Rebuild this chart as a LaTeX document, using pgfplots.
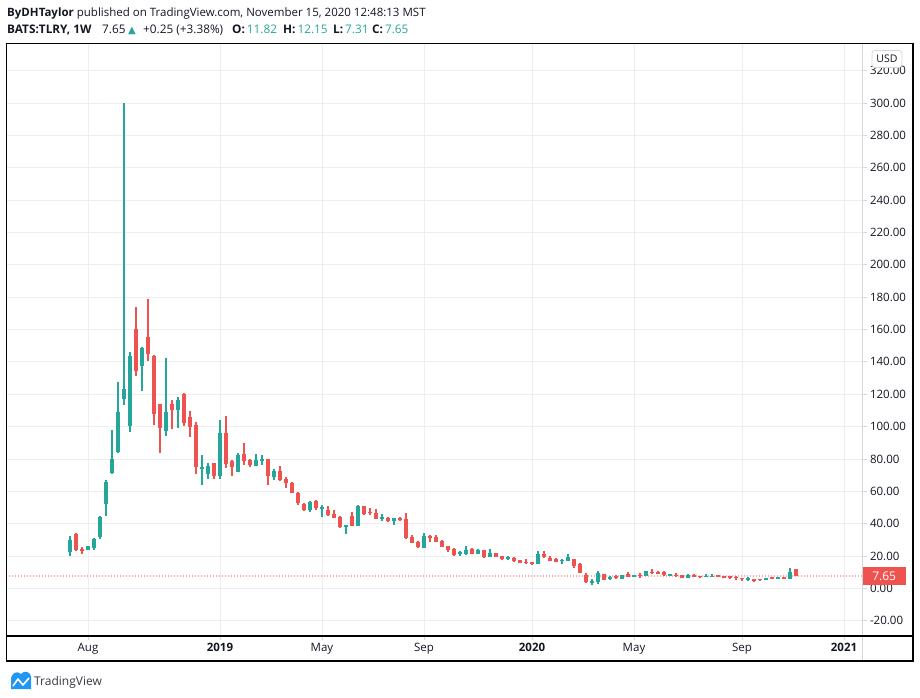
\documentclass[border=0pt]{standalone}
\usepackage{pgfplots}
\usepackage{pgfplotstable}
\pgfplotsset{compat=1.18}
\usepackage{fontspec}
\setmainfont{Open Sans}
\newfontfamily\symfont{DejaVu Sans}

\definecolor{tvgreen}{HTML}{26A69A}
\definecolor{tvred}{HTML}{EF5350}
\definecolor{tvtext}{HTML}{131722}
\definecolor{tvgrid}{HTML}{EDEEF1}
\definecolor{tvsep}{HTML}{D4D6DB}
\definecolor{tvblue}{HTML}{2196F3}

% weekly candles, x = week index (0 = week of 16 Jul 2018)
\pgfplotstableread{
x o h l c
0 22.6 32.3 20.0 29.9
3 23.6 26.3 23.4 26.1
4 25.1 31.2 23.6 30.4
5 31.6 44.7 30.4 44.1
6 52.3 67.0 44.4 65.9
7 71.2 97.9 70.6 79.8
8 84.1 127.6 83.7 109.0
9 117.2 300.0 113.3 123.2
10 100.6 145.9 96.9 143.7
12 137.7 149.0 122.2 148.6
16 97.5 142.3 94.4 109.0
18 110.5 118.5 99.3 116.5
22 73.8 82.4 64.1 75.0
23 70.7 77.3 67.8 75.6
25 69.6 104.1 67.8 96.0
28 72.1 83.7 72.1 82.4
31 75.8 83.1 75.8 79.3
32 78.9 82.4 76.4 80.0
34 69.0 73.8 67.2 72.5
40 48.6 54.0 47.4 53.4
42 49.2 51.5 44.3 50.5
46 37.9 39.1 33.6 39.1
48 38.5 51.5 38.5 50.9
52 42.9 46.0 41.8 44.1
54 41.8 43.5 39.3 43.5
59 24.9 34.2 24.9 32.3
65 21.2 23.1 20.0 22.4
66 21.2 26.2 20.6 23.7
68 21.2 24.3 21.2 23.7
70 19.4 24.3 19.4 21.8
73 18.3 20.0 17.5 19.2
78 15.2 23.1 15.2 21.2
82 17.1 18.1 15.0 17.7
83 16.9 21.2 16.9 19.4
87 3.7 5.8 2.0 4.1
88 3.9 10.7 2.8 9.5
90 5.8 7.6 5.3 7.0
92 5.9 8.2 5.9 8.2
94 7.2 8.2 7.2 8.2
96 7.8 10.7 7.8 10.7
100 7.8 8.8 7.8 8.8
103 6.6 8.8 6.6 8.4
106 7.2 9.0 7.2 7.6
107 7.2 8.8 7.2 7.8
113 5.7 7.0 4.8 6.1
116 5.1 6.4 5.1 6.4
118 5.8 7.0 5.8 7.0
120 5.8 12.6 5.8 10.1
}\upcandles

\pgfplotstableread{
x o h l c
1 33.6 34.4 23.0 23.6
2 24.2 25.3 21.5 23.2
11 160.4 174.2 131.5 134.6
13 155.4 178.9 140.6 145.1
14 143.7 144.3 101.0 108.0
15 114.0 114.0 83.9 99.3
17 114.0 116.5 98.7 110.5
19 120.2 121.0 100.6 102.4
20 106.1 109.8 93.8 100.0
21 101.2 103.0 70.9 75.2
24 77.5 77.5 67.8 69.6
26 96.0 106.6 74.6 77.0
27 78.7 79.3 69.6 75.2
29 83.1 89.9 76.4 78.9
30 79.3 80.0 75.2 76.4
33 80.0 80.0 64.1 69.6
35 72.5 75.6 66.5 67.2
36 67.6 69.0 62.2 65.3
37 65.1 65.7 59.1 59.1
38 58.9 59.5 51.7 52.9
39 52.1 52.8 48.0 48.6
41 54.0 54.6 48.6 49.8
43 48.4 50.9 44.9 45.5
44 46.0 48.4 43.3 43.7
45 44.1 44.7 37.3 37.9
47 44.7 47.2 38.5 38.5
49 50.9 50.9 45.5 46.1
50 47.4 49.7 45.5 46.4
51 46.6 49.0 42.9 42.9
53 43.5 44.1 41.2 41.8
55 43.5 44.1 41.8 42.4
56 42.9 46.6 30.5 31.1
57 31.7 32.9 28.0 28.0
58 28.6 29.2 24.9 25.5
60 32.3 32.9 28.6 31.1
61 31.7 32.9 28.6 28.6
62 29.2 29.8 25.5 25.5
63 26.1 26.1 22.4 23.7
64 24.3 24.9 20.0 20.6
67 24.3 24.9 21.2 21.2
69 23.7 23.7 18.7 19.4
71 21.8 21.8 19.4 19.4
72 20.0 20.0 17.5 18.1
74 18.7 19.4 16.3 16.9
75 17.5 17.5 15.8 15.8
76 16.3 18.1 15.0 15.7
77 16.3 16.3 14.4 15.0
79 21.2 23.1 18.7 19.4
80 18.7 20.0 16.9 16.9
81 18.1 18.7 16.3 16.3
84 18.1 18.1 12.6 13.8
85 15.0 15.6 9.5 9.5
86 8.2 9.5 3.3 3.9
89 8.8 8.8 5.3 5.3
91 7.2 8.2 5.8 6.8
93 8.8 10.1 7.0 7.2
95 8.4 9.5 6.6 7.8
97 10.3 11.9 8.8 9.5
98 10.1 10.7 8.8 9.0
99 10.1 10.7 7.6 8.4
101 8.4 9.5 7.2 7.8
102 8.2 8.2 6.6 6.6
104 8.2 8.8 7.2 7.2
105 7.8 7.8 6.6 7.2
108 8.2 8.2 7.2 7.2
109 7.8 7.8 6.6 6.6
110 7.4 7.8 5.9 7.0
111 7.2 7.8 5.3 6.2
112 6.4 6.4 4.5 5.8
114 5.8 5.8 4.2 4.8
115 5.8 5.8 4.5 5.1
117 7.0 7.0 5.8 5.8
119 7.0 7.0 5.8 5.8
121 11.82 12.15 7.31 7.65
}\downcandles

\pgfplotsset{
  candle/.style n args={2}{color=#1, draw=none, mark=none, forget plot,
    error bars/.cd, y dir=both, y explicit, error mark=none,
    error bar style={solid, line width=#2, color=#1, draw=#1}},
}

\begin{document}
\begin{tikzpicture}
\path[use as bounding box] (0pt,0pt) rectangle (920pt,-698pt);

% header
\begin{scope}[every node/.style={anchor=base west, inner sep=0pt, text=tvtext,
    font=\fontsize{11.8}{14}\selectfont}]
\node[font=\fontsize{11.5}{14}\selectfont] at (7pt,-17pt) {\textbf{ByDHTaylor} published on TradingView.com, November 15, 2020 12:48:13 MST};
\node at (7pt,-34pt) {\textbf{BATS:TLRY, 1W}};
\node at (102pt,-34pt) {7.65};
\node[text=tvgreen, font=\symfont\fontsize{10}{12}\selectfont] at (128pt,-34pt) {▲};
\node at (143pt,-34pt) {+0.25 (+3.38\%)};
\node at (232pt,-34pt) {\textbf{O:}\,{\color{tvgreen}11.82}};
\node at (283pt,-34pt) {\textbf{H:}\,{\color{tvgreen}12.15}};
\node at (333pt,-34pt) {\textbf{L:}\,{\color{tvgreen}7.31}};
\node at (372pt,-34pt) {\textbf{C:}\,{\color{tvgreen}7.65}};
\end{scope}

\begin{axis}[
  at={(6.5pt,-43.3pt)}, anchor=north west,
  width=856pt, height=592.7pt, scale only axis,
  xmin=-10.58, xmax=132.08,
  ymin=-29.5, ymax=337,
  axis line style={draw=none},
  grid=major,
  grid style={tvgrid, line width=0.8pt},
  ytick={-20,0,...,320},
  ytick pos=right,
  yticklabel pos=right,
  xtick={3,25,42,59,77,94,112,129},
  xticklabels={Aug,\textbf{2019},May,Sep,\textbf{2020},May,Sep,\textbf{2021}},
  xtick pos=bottom,
  tick align=outside,
  major tick length=4pt,
  tick style={tvsep, line width=0.8pt},
  ticklabel style={text=tvtext, font=\fontsize{11.5}{13}\selectfont},
  yticklabel style={/pgf/number format/.cd, fixed, fixed zerofill, precision=2, assume math mode=true},
  clip=false,
]
% last-price line
\addplot[color=tvred, solid, line width=1.3pt, line cap=round,
  dash pattern=on 0pt off 3pt, forget plot]
  coordinates {(-10.58,7.65) (132.08,7.65)};

% wicks, then bodies
\addplot[candle={tvgreen}{1.1pt}] table[x=x, y expr={(\thisrow{h}+\thisrow{l})/2},
  y error expr={(\thisrow{h}-\thisrow{l})/2}] {\upcandles};
\addplot[candle={tvgreen}{4.6pt}] table[x=x, y expr={(\thisrow{o}+\thisrow{c})/2},
  y error expr={max(abs(\thisrow{c}-\thisrow{o})/2,0.4)}] {\upcandles};
\addplot[candle={tvred}{1.1pt}] table[x=x, y expr={(\thisrow{h}+\thisrow{l})/2},
  y error expr={(\thisrow{h}-\thisrow{l})/2}] {\downcandles};
\addplot[candle={tvred}{4.6pt}] table[x=x, y expr={(\thisrow{o}+\thisrow{c})/2},
  y error expr={max(abs(\thisrow{c}-\thisrow{o})/2,0.4)}] {\downcandles};

% price label on the scale
\node[anchor=west, fill=tvred, text=white, inner sep=0pt, minimum width=43pt,
  minimum height=18pt, font=\fontsize{12}{14}\selectfont] at (axis cs:132.08,7.65) {7.65};
\end{axis}

% frame
\draw[tvsep, line width=0.8pt] (862.5pt,-43.3pt) -- (862.5pt,-661pt);
\draw[black, line width=1.1pt] (6.5pt,-636pt) -- (913pt,-636pt);
\draw[black, line width=1.1pt] (6.5pt,-43.3pt) rectangle (913pt,-661pt);

% currency box
\node[draw=tvsep, rounded corners=3pt, fill=white, text=tvtext, line width=0.8pt,
  minimum width=30pt, minimum height=17pt, inner sep=1pt,
  font=\fontsize{10.5}{12}\selectfont] at (887pt,-59pt) {USD};

% logo
\fill[tvblue] (11pt,-689pt) -- (11pt,-680pt) .. controls (11pt,-673pt) and (17pt,-670pt) .. (21pt,-674pt)
  .. controls (24pt,-670pt) and (31pt,-671pt) .. (31pt,-678pt) -- (31pt,-689pt) -- cycle;
\draw[white, line width=1.6pt, line join=round] (13pt,-686pt) -- (18pt,-679pt) -- (23pt,-685pt) -- (29pt,-678pt);
\node[anchor=base west, inner sep=0pt, text=tvtext!85, font=\fontsize{12}{14}\selectfont]
  at (34pt,-685pt) {TradingView};
\end{tikzpicture}
\end{document}
